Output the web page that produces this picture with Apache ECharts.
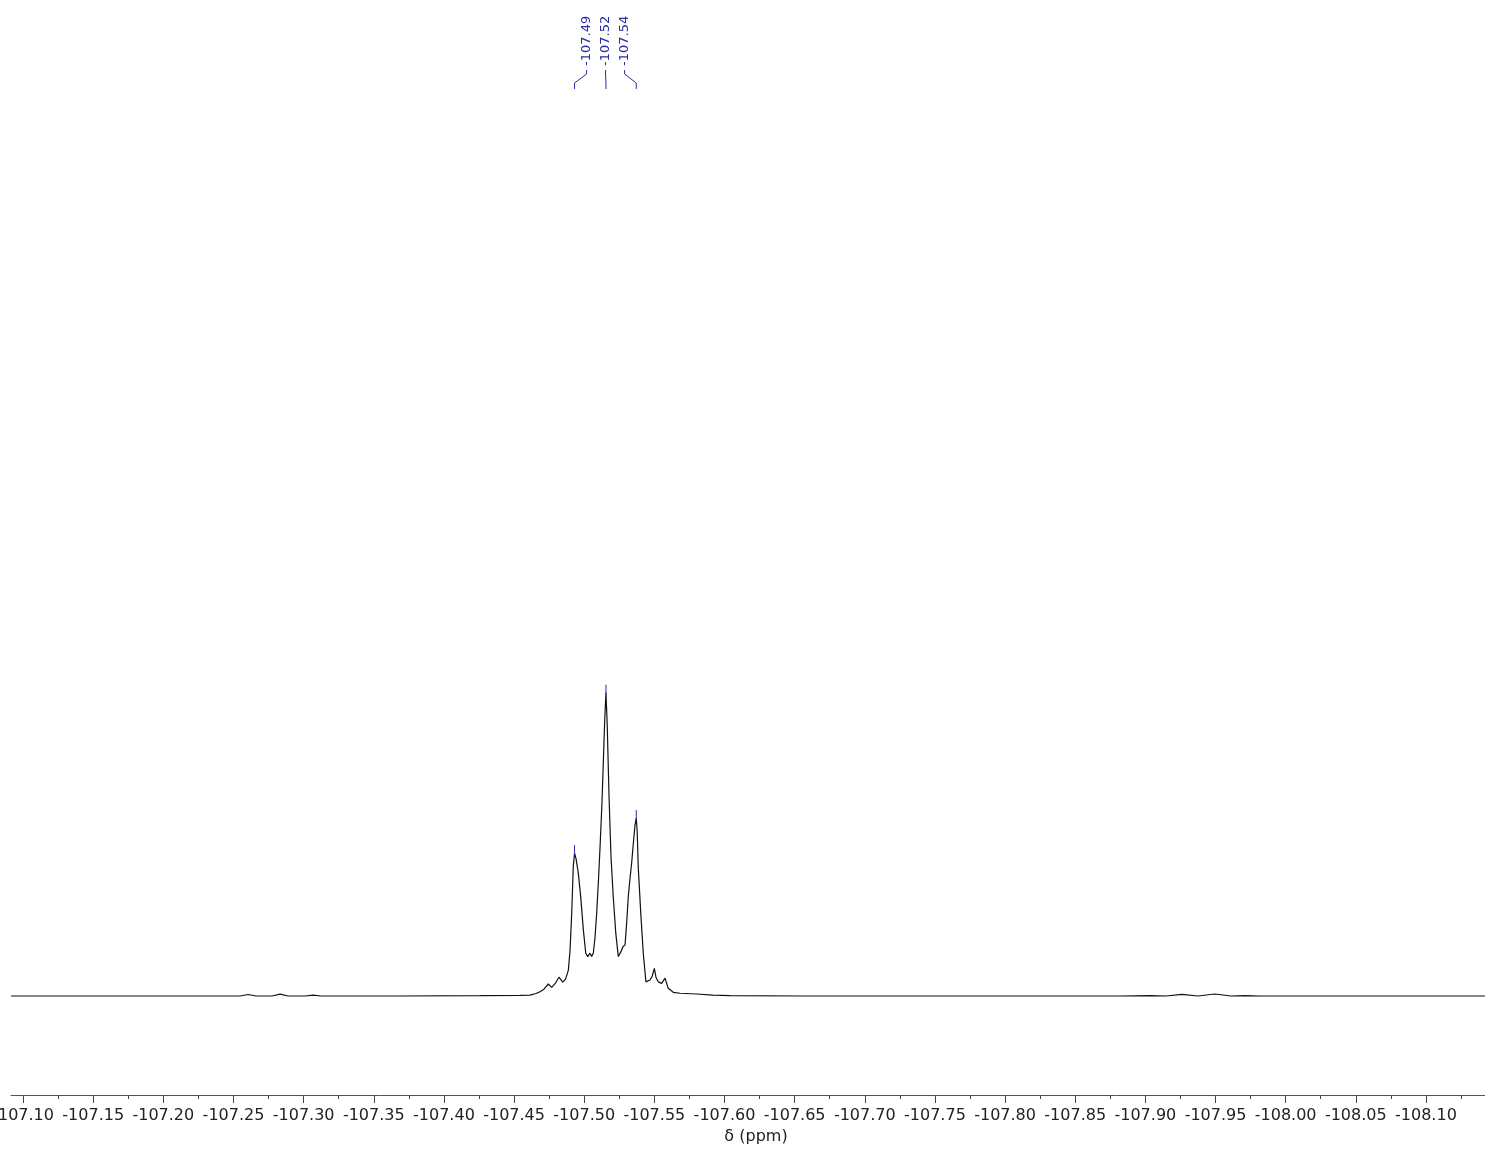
<!DOCTYPE html>
<html>
<head>
<meta charset="utf-8">
<title>19F NMR spectrum</title>
<script src="https://cdn.jsdelivr.net/npm/echarts@6/dist/echarts.min.js"></script>
<style>
  html, body { margin: 0; padding: 0; background: #ffffff; }
  #chart { width: 1485px; height: 1150px; }
</style>
</head>
<body>
<div id="chart"></div>
<script>
// Spectrum trace: chemical shift (ppm) and normalised intensity
const shiftPpm = [
  -107.0914, -107.1549, -107.2262, -107.2547, -107.2604, -107.2661, -107.2775, -107.2832,
  -107.2889, -107.3010, -107.3067, -107.3124, -107.3687, -107.4257, -107.4542, -107.4614,
  -107.4656, -107.4685, -107.4713, -107.4744, -107.4768, -107.4792, -107.4820, -107.4847,
  -107.4867, -107.4887, -107.4899, -107.4911, -107.4922, -107.4931, -107.4942, -107.4958,
  -107.4975, -107.4994, -107.5011, -107.5025, -107.5041, -107.5053, -107.5065, -107.5077,
  -107.5089, -107.5102, -107.5113, -107.5126, -107.5136, -107.5146, -107.5155, -107.5164,
  -107.5177, -107.5191, -107.5207, -107.5225, -107.5243, -107.5262, -107.5276, -107.5291,
  -107.5303, -107.5314, -107.5326, -107.5338, -107.5351, -107.5362, -107.5371, -107.5378,
  -107.5385, -107.5403, -107.5421, -107.5440, -107.5469, -107.5485, -107.5500, -107.5512,
  -107.5528, -107.5552, -107.5576, -107.5599, -107.5635, -107.5683, -107.5802, -107.5918,
  -107.6039, -107.6538, -107.7251, -107.7964, -107.8819, -107.9033, -107.9147, -107.9261,
  -107.9375, -107.9496, -107.9610, -107.9710, -107.9817, -108.0458, -108.1421
];
const intensity = [
  0, 0, 0, 0, 0.005, 0, 0, 0.006,
  0, 0, 0.003, 0, 0, 0.001, 0.002, 0.003,
  0.008, 0.014, 0.022, 0.039, 0.028, 0.040, 0.061, 0.045,
  0.055, 0.084, 0.149, 0.270, 0.420, 0.464, 0.445, 0.399,
  0.322, 0.214, 0.139, 0.128, 0.139, 0.128, 0.140, 0.190,
  0.270, 0.380, 0.485, 0.620, 0.757, 0.895, 0.985, 0.880,
  0.647, 0.452, 0.322, 0.204, 0.128, 0.144, 0.160, 0.166,
  0.240, 0.322, 0.380, 0.431, 0.500, 0.555, 0.578, 0.530,
  0.420, 0.270, 0.139, 0.046, 0.052, 0.065, 0.090, 0.060,
  0.046, 0.041, 0.058, 0.025, 0.012, 0.009, 0.0065, 0.003,
  0.001, 0, 0, 0, 0, 0.001, 0, 0.0055,
  0, 0.0065, 0, 0.001, 0, 0, 0
];

// Picked peaks
const peakPpm = [-107.4931, -107.5155, -107.5371];
const peakIntensity = [0.464, 0.985, 0.578];

// Shift axis: range, labelled ticks and the half-step ticks between them
const axisLeft = -107.0914;
const axisRight = -108.1421;
const majorTicks = [
  -107.10, -107.15, -107.20, -107.25, -107.30, -107.35, -107.40, -107.45, -107.50, -107.55,
  -107.60, -107.65, -107.70, -107.75, -107.80, -107.85, -107.90, -107.95, -108.00, -108.05, -108.10
];
const minorTicks = [
  -107.125, -107.175, -107.225, -107.275, -107.325, -107.375, -107.425, -107.475, -107.525, -107.575,
  -107.625, -107.675, -107.725, -107.775, -107.825, -107.875, -107.925, -107.975, -108.025, -108.075, -108.125
];

const PEAK_BLUE = '#2b2ba6';
const FONT = '"DejaVu Sans", Verdana, sans-serif';

const trace = shiftPpm.map((x, i) => [x, intensity[i]]);
const peaks = peakPpm.map((x, i) => [x, peakIntensity[i]]);

const gridBox = { left: 11, right: 0, top: 72, bottom: 55, containLabel: false, outerBoundsMode: 'none' };

function renderPeakLabel(params, api) {
  const i = params.dataIndex;
  const tip = api.coord([api.value(0), api.value(1)]);
  // labels are spread evenly around the centre of the picked peaks
  const xs = peaks.map(p => api.coord(p)[0]);
  const centre = xs.reduce((a, b) => a + b, 0) / xs.length;
  const slotX = centre + (i - (peaks.length - 1) / 2) * 19;
  const lineStyle = { stroke: PEAK_BLUE, lineWidth: 1, fill: null };
  return {
    type: 'group',
    children: [
      {
        type: 'line',
        shape: { x1: tip[0], y1: tip[1] + 2, x2: tip[0], y2: tip[1] - 8 },
        style: lineStyle
      },
      {
        type: 'polyline',
        shape: { points: [[slotX, 70], [slotX, 74], [tip[0], 83], [tip[0], 89]] },
        style: lineStyle
      },
      {
        type: 'text',
        x: slotX,
        y: 66,
        rotation: Math.PI / 2,
        style: {
          text: api.value(0).toFixed(2),
          fill: PEAK_BLUE,
          font: '13px ' + FONT,
          align: 'left',
          verticalAlign: 'middle'
        }
      }
    ]
  };
}

const chart = echarts.init(document.getElementById('chart'), null, { renderer: 'canvas' });

chart.setOption({
  animation: false,
  backgroundColor: '#ffffff',
  grid: [Object.assign({}, gridBox), Object.assign({}, gridBox)],
  xAxis: [
    {
      type: 'value',
      gridIndex: 0,
      position: 'bottom',
      inverse: true,
      min: axisRight,
      max: axisLeft,
      splitLine: { show: false },
      axisLine: { show: true, onZero: false, lineStyle: { color: '#555555', width: 1 } },
      axisTick: {
        show: true,
        customValues: majorTicks,
        length: 8,
        lineStyle: { color: '#444444', width: 1 }
      },
      axisLabel: {
        show: true,
        customValues: majorTicks,
        formatter: v => v.toFixed(2),
        color: '#222222',
        fontFamily: FONT,
        fontSize: 16,
        margin: 13
      },
      name: 'δ (ppm)',
      nameLocation: 'middle',
      nameGap: 32,
      nameTextStyle: { color: '#222222', fontFamily: FONT, fontSize: 16, padding: [0, 0, 0, 16] }
    },
    {
      type: 'value',
      gridIndex: 1,
      position: 'bottom',
      inverse: true,
      min: axisRight,
      max: axisLeft,
      splitLine: { show: false },
      axisLine: { show: false, onZero: false },
      axisTick: {
        show: true,
        customValues: minorTicks,
        length: 4,
        lineStyle: { color: '#444444', width: 1 }
      },
      axisLabel: { show: false }
    }
  ],
  yAxis: [
    { type: 'value', gridIndex: 0, min: -0.3214, max: 3, show: false, splitLine: { show: false } },
    { type: 'value', gridIndex: 1, min: -0.3214, max: 3, show: false, splitLine: { show: false } }
  ],
  series: [
    {
      type: 'line',
      xAxisIndex: 0,
      yAxisIndex: 0,
      data: trace,
      showSymbol: false,
      smooth: false,
      lineStyle: { color: '#111111', width: 1.2 },
      silent: true
    },
    {
      type: 'custom',
      xAxisIndex: 0,
      yAxisIndex: 0,
      data: peaks,
      clip: false,
      renderItem: renderPeakLabel,
      silent: true,
      z: 5
    }
  ]
});
</script>
</body>
</html>
